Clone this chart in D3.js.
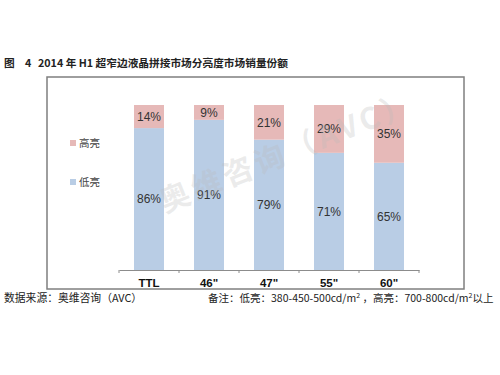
<!DOCTYPE html>
<html>
<head>
<meta charset="utf-8">
<script src="https://cdn.jsdelivr.net/npm/d3@7"></script>
<style>
  body { margin: 0; background: #fff; }
  svg { font-family: Arial, "Liberation Sans", "Noto Sans CJK SC", sans-serif; }
</style>
</head>
<body>
<svg width="500" height="375"></svg>
<script>
// categorias e séries
const categories = ["TTL", "46\"", "47\"", "55\"", "60\""];
const lowShare = [86, 91, 79, 71, 65];   // 低亮
const highShare = [14, 9, 21, 29, 35];   // 高亮
const seriesNames = ["低亮", "高亮"];
const seriesColors = ["#b9cde5", "#e6b9b8"];

const svg = d3.select("svg");
const cjk = "\"Noto Sans CJK SC\", Arial, sans-serif";

// título
[["图", 4], ["4", 25], ["2014 年 H1 超窄边液晶拼接市场分亮度市场销量份额", 38]].forEach(([t, px]) => {
  svg.append("text")
      .attr("x", px).attr("y", 67)
      .attr("font-family", cjk)
      .attr("font-size", 10.7).attr("font-weight", "bold").attr("fill", "#222")
      .text(t);
});

// moldura
svg.append("rect")
    .attr("x", 47).attr("y", 77)
    .attr("width", 417).attr("height", 212)
    .attr("fill", "none").attr("stroke", "#7f7f7f").attr("stroke-width", 1.5);

const x = d3.scaleBand()
    .domain(categories)
    .range([119, 419])
    .paddingInner(0.5).paddingOuter(0.25);

const y = d3.scaleLinear()
    .domain([0, 100])
    .range([270, 105]);

const rows = categories.map((c, i) => ({cat: c, low: lowShare[i], high: highShare[i]}));
const stacked = d3.stack().keys(["low", "high"])(rows);

const g = svg.append("g");
g.selectAll("g.layer")
  .data(stacked)
  .enter().append("g")
    .attr("class", "layer")
    .attr("fill", (d, i) => seriesColors[i])
  .selectAll("rect")
  .data(d => d)
  .enter().append("rect")
    .attr("x", d => x(d.data.cat))
    .attr("y", d => y(d[1]))
    .attr("width", x.bandwidth())
    .attr("height", d => y(d[0]) - y(d[1]));

// rótulos dos valores
stacked.forEach(layer => {
  g.selectAll(null)
    .data(layer)
    .enter().append("text")
      .attr("x", d => x(d.data.cat) + x.bandwidth() / 2)
      .attr("y", d => (y(d[0]) + y(d[1])) / 2)
      .attr("dy", "0.35em")
      .attr("text-anchor", "middle")
      .attr("font-size", 12)
      .attr("fill", "#333")
      .text(d => (d[1] - d[0]) + "%");
});

// eixo x
const axis = svg.append("g")
    .attr("transform", "translate(0,270)")
    .call(d3.axisBottom(x).tickSize(0).tickPadding(9));
axis.select(".domain").attr("stroke", "#8c8c8c").attr("stroke-width", 1.2);
axis.selectAll(".tick text")
    .attr("font-size", 11.5).attr("font-weight", "bold").attr("fill", "#111");
const step = x.step();
axis.selectAll("line.sep")
  .data(d3.range(categories.length + 1))
  .enter().append("line")
    .attr("class", "sep")
    .attr("x1", i => 119 + i * step).attr("x2", i => 119 + i * step)
    .attr("y1", 0).attr("y2", 3)
    .attr("stroke", "#8c8c8c");

// legenda
const legendY = [182, 143];
seriesNames.forEach((name, i) => {
  svg.append("rect")
      .attr("x", 70).attr("y", legendY[i] - 3)
      .attr("width", 6).attr("height", 6)
      .attr("fill", seriesColors[i]);
  svg.append("text")
      .attr("x", 79).attr("y", legendY[i])
      .attr("dy", "0.35em")
      .attr("font-family", cjk)
      .attr("font-size", 10.5).attr("fill", "#444")
      .text(name);
});

// marca d'água
svg.append("text")
    .attr("transform", "translate(165,213) rotate(-22)")
    .attr("font-family", cjk)
    .attr("font-size", 30).attr("font-weight", "bold")
    .attr("fill", "#bbb").attr("fill-opacity", 0.3)
    .attr("letter-spacing", 4)
    .text("奥维咨询（AVC）");

// rodapé
svg.append("text")
    .attr("x", 4).attr("y", 302)
    .attr("font-family", cjk)
    .attr("font-size", 10.8).attr("fill", "#222")
    .text("数据来源：奥维咨询（AVC）");
const note = svg.append("text")
    .attr("x", 208).attr("y", 302)
    .attr("font-family", cjk)
    .attr("font-size", 10.5).attr("fill", "#222");
note.append("tspan").text("备注：低亮：380-450-500cd/m");
note.append("tspan").attr("dy", -4).attr("font-size", 7).text("2");
note.append("tspan").attr("dy", 4).text(" ，高亮：700-800cd/m");
note.append("tspan").attr("dy", -4).attr("font-size", 7).text("2");
note.append("tspan").attr("dy", 4).text("以上");
</script>
</body>
</html>
